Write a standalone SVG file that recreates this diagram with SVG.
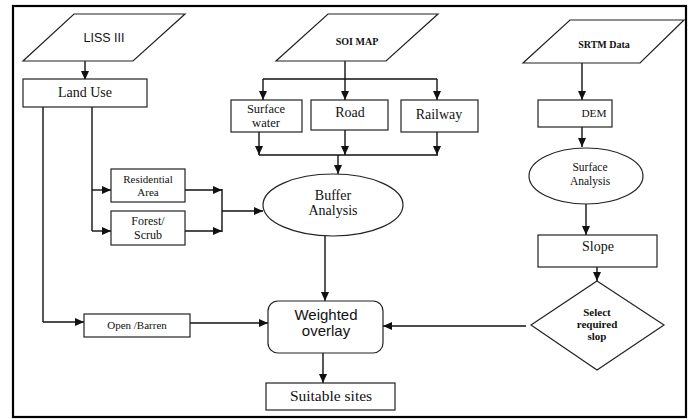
<svg xmlns="http://www.w3.org/2000/svg" width="693" height="419" viewBox="0 0 693 419">
<style>
.sh{fill:#fff;stroke:#222;stroke-width:1.2}
.ln{fill:none;stroke:#111;stroke-width:1.4}
.ar{fill:none;stroke:#111;stroke-width:1.4;marker-end:url(#ah)}
.sf{font-family:"Liberation Serif","Times New Roman",serif;fill:#111;text-anchor:middle}
.ss{font-family:"Liberation Sans",Arial,sans-serif;fill:#111;text-anchor:middle}
.b{font-weight:bold}
</style>
<defs>
<marker id="ah" markerWidth="9" markerHeight="8" refX="9" refY="4" orient="auto" markerUnits="userSpaceOnUse">
<path d="M0,0 L9,4 L0,8 Z" fill="#111"/>
</marker>
</defs>
<rect x="0" y="0" width="693" height="419" fill="#fff"/>
<rect x="13" y="6" width="673" height="411" fill="none" stroke="#000" stroke-width="2.2"/>

<g id="connectors">
<path class="ar" d="M85,61 V80"/>
<path class="ln" d="M43,107 V322"/>
<path class="ar" d="M43,322 H84"/>
<path class="ln" d="M92,107 V231"/>
<path class="ar" d="M92,190 H111"/>
<path class="ar" d="M92,231 H111"/>
<path class="ar" d="M185,190 H222"/>
<path class="ar" d="M185,231 H222"/>
<path class="ln" d="M222,189 V232"/>
<path class="ar" d="M222,211 H263"/>
<path class="ar" d="M345,61 V100"/>
<path class="ln" d="M263,79 H437"/>
<path class="ar" d="M263,79 V100"/>
<path class="ar" d="M437,79 V100"/>
<path class="ar" d="M259,132 V155"/>
<path class="ar" d="M345,130 V155"/>
<path class="ar" d="M437,132 V155"/>
<path class="ln" d="M259,155 H438"/>
<path class="ar" d="M338,155 V174"/>
<path class="ar" d="M325,236 V301"/>
<path class="ar" d="M190,323 H268"/>
<path class="ar" d="M323,353 V383"/>
<path class="ar" d="M582,63 V100"/>
<path class="ar" d="M582,127 V147"/>
<path class="ar" d="M586,203 V235"/>
<path class="ar" d="M597,267 V281"/>
<path class="ar" d="M526,326 H383"/>
</g>

<g id="liss">
<polygon class="sh" points="74,14 185,14 133,61 23,61"/>
<text class="ss" x="104" y="42" font-size="12.5">LISS III</text>
</g>
<g id="landuse">
<rect class="sh" x="23" y="79" width="124" height="28"/>
<text class="sf" x="85" y="97" font-size="14">Land Use</text>
</g>
<g id="residential">
<rect class="sh" x="111" y="169" width="74" height="33"/>
<text class="sf" x="148" y="183" font-size="11">Residential</text>
<text class="sf" x="148" y="196" font-size="11">Area</text>
</g>
<g id="forest">
<rect class="sh" x="111" y="211" width="74" height="34"/>
<text class="sf" x="148" y="225" font-size="12">Forest/</text>
<text class="sf" x="148" y="239" font-size="12">Scrub</text>
</g>
<g id="open">
<rect class="sh" x="84" y="314" width="106" height="23"/>
<text class="sf" x="137" y="329" font-size="11">Open /Barren</text>
</g>
<g id="soi">
<polygon class="sh" points="328,14 438,14 386,61 276,61"/>
<text class="sf b" x="357" y="45" font-size="10">SOI MAP</text>
</g>
<g id="surfacewater">
<rect class="sh" x="231" y="100" width="71" height="32"/>
<text class="sf" x="266" y="113" font-size="12.5">Surface</text>
<text class="sf" x="266" y="127" font-size="12.5">water</text>
</g>
<g id="road">
<rect class="sh" x="311" y="100" width="77" height="30"/>
<text class="sf" x="350" y="117" font-size="14">Road</text>
</g>
<g id="railway">
<rect class="sh" x="401" y="100" width="77" height="32"/>
<text class="sf" x="439" y="119" font-size="14">Railway</text>
</g>
<g id="buffer">
<ellipse class="sh" cx="333" cy="205" rx="70" ry="31"/>
<text class="sf" x="333" y="200" font-size="14">Buffer</text>
<text class="sf" x="333" y="215" font-size="14">Analysis</text>
</g>
<g id="weighted">
<rect class="sh" x="268" y="301" width="115" height="52" rx="10"/>
<text class="ss" x="326" y="320" font-size="15">Weighted</text>
<text class="ss" x="326" y="336" font-size="15">overlay</text>
</g>
<g id="suitable">
<rect class="sh" x="266" y="383" width="129" height="27"/>
<text class="sf" x="331" y="401" font-size="15.5">Suitable sites</text>
</g>
<g id="srtm">
<polygon class="sh" points="570,20 684,20 640,63 523,63"/>
<text class="sf b" x="604" y="48" font-size="10">SRTM Data</text>
</g>
<g id="dem">
<rect class="sh" x="538" y="100" width="74" height="27"/>
<text class="sf" x="594" y="117" font-size="11.3">DEM</text>
</g>
<g id="surface">
<ellipse class="sh" cx="586" cy="176" rx="57" ry="28"/>
<text class="sf" x="590" y="171" font-size="11.5">Surface</text>
<text class="sf" x="590" y="185" font-size="11.5">Analysis</text>
</g>
<g id="slope">
<rect class="sh" x="538" y="235" width="119" height="32"/>
<text class="sf" x="598" y="251" font-size="14">Slope</text>
</g>
<g id="select">
<polygon class="sh" points="597,281 664,325 597,370 531,325"/>
<text class="sf b" x="597" y="316" font-size="11">Select</text>
<text class="sf b" x="597" y="328" font-size="11">required</text>
<text class="sf b" x="597" y="340" font-size="11">slop</text>
</g>
</svg>
